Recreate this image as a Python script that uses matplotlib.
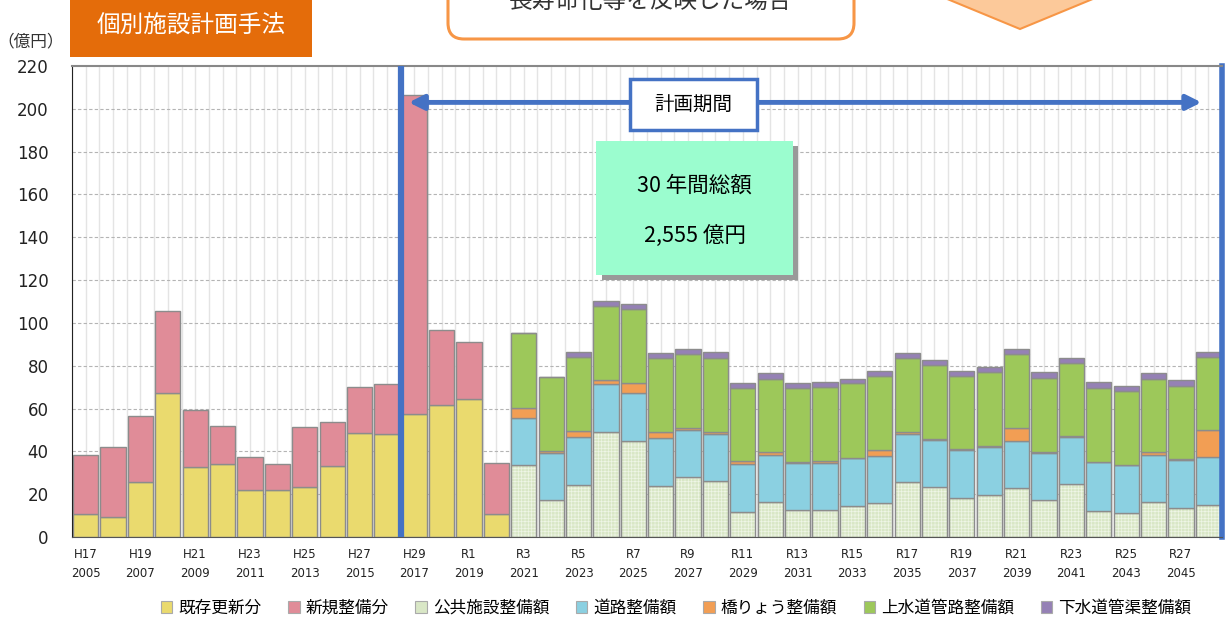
import matplotlib
matplotlib.use("Agg")
import matplotlib.pyplot as plt
from matplotlib.patches import Rectangle, FancyBboxPatch, Polygon, Patch
from matplotlib.transforms import IdentityTransform
import numpy as np

JP = ["Noto Sans CJK JP", "DejaVu Sans"]

# 2005-2020 (H17-R2): actual spending
hist_years = list(range(2005, 2021))
existing = [10.6, 9.5, 25.7, 67.1, 32.8, 33.9, 21.9, 21.9, 23.5, 33.3, 48.4, 48.3,
            57.4, 61.5, 64.6, 10.7]
new_build = [27.5, 32.4, 30.8, 38.6, 26.5, 18.1, 15.6, 12.3, 28.0, 20.3, 21.7, 23.0,
             149.1, 35.2, 26.5, 23.9]

# 2021-2046 (R3-R28): planned by category
plan_years = list(range(2021, 2047))
public = [33.5, 17.1, 24.3, 49.0, 45.0, 23.8, 27.9, 26.2, 11.5, 16.2, 12.5, 12.5, 14.5,
          15.7, 25.8, 23.2, 18.4, 19.8, 22.9, 17.1, 24.6, 12.3, 11.2, 16.3, 13.7, 15.1]
road = [22.1, 22.1, 22.3, 22.3, 22.1, 22.4, 22.2, 22.1, 22.5, 22.0, 22.2, 21.9, 22.2,
        22.3, 22.5, 22.3, 22.4, 22.1, 22.1, 22.3, 22.2, 22.5, 22.2, 22.2, 22.4, 22.1]
bridge = [4.7, 1.0, 2.9, 2.2, 5.0, 2.8, 1.0, 0.9, 1.4, 1.4, 0.3, 1.2, 0.3,
          2.6, 0.9, 0.3, 0.2, 0.6, 5.9, 0.4, 0.2, 0.2, 0.2, 1.1, 0.2, 12.6]
water = [35.0, 34.7, 34.4, 34.4, 34.2, 34.6, 34.4, 34.6, 34.2, 34.3, 34.5, 34.3, 34.8,
         34.5, 34.6, 34.4, 34.4, 34.4, 34.4, 34.5, 34.3, 34.6, 34.4, 34.3, 34.4, 34.1]
sewer = [0.0, 0.0, 2.4, 2.2, 2.4, 2.3, 2.3, 2.5, 2.3, 2.6, 2.3, 2.3, 2.1,
         2.3, 2.3, 2.3, 2.3, 2.5, 2.5, 2.6, 2.5, 2.6, 2.5, 2.8, 2.7, 2.5]

tick_era = ["H17", "H19", "H21", "H23", "H25", "H27", "H29", "R1", "R3", "R5", "R7",
            "R9", "R11", "R13", "R15", "R17", "R19", "R21", "R23", "R25", "R27"]
tick_year = list(range(2005, 2046, 2))

labels = ["既存更新分", "新規整備分", "公共施設整備額", "道路整備額", "橋りょう整備額",
          "上水道管路整備額", "下水道管渠整備額"]
colors = ["#eada6e", "#e08c98", "#d9e7c6", "#8bd0e1", "#f29e54", "#9dc85a", "#9581b5"]
EDGE = "#8c8c8c"
BLUE = "#4472c4"
W = 1226
H = 619

fig = plt.figure(figsize=(W / 100, H / 100), dpi=100)
ax = fig.add_axes([72 / W, 1 - 537 / H, 1150 / W, 471 / H])

all_years = hist_years + plan_years
x_hist = np.array([all_years.index(y) for y in hist_years])
x_plan = np.array([all_years.index(y) for y in plan_years])

# background grid
for v in np.arange(-0.5, len(all_years), 0.5):
    ax.axvline(v, color="#e4e4e4", lw=1.0, zorder=0)
for yv in range(20, 220, 20):
    ax.axhline(yv, color="#b4b4b4", lw=0.8, ls=(0, (3, 2)), zorder=0.5)

bw = 0.92
ax.bar(x_hist, existing, bw, color=colors[0], edgecolor=EDGE, lw=1.0, zorder=2)
ax.bar(x_hist, new_build, bw, bottom=existing, color=colors[1], edgecolor=EDGE, lw=1.0, zorder=2)

plt.rcParams["hatch.linewidth"] = 0.5
ax.bar(x_plan, public, bw, color=colors[2], edgecolor="#eef5e6", hatch="+++++", lw=0, zorder=2)
ax.bar(x_plan, public, bw, color="none", edgecolor=EDGE, lw=1.0, zorder=2)
bottom = np.array(public, dtype=float)
for vals, col in zip([road, bridge, water, sewer], colors[3:]):
    ax.bar(x_plan, vals, bw, bottom=bottom, color=col, edgecolor=EDGE, lw=1.0, zorder=2)
    bottom += np.array(vals)

ax.set_xlim(-0.5, len(all_years) - 0.5)
ax.set_ylim(0, 220)
ax.set_yticks(range(0, 221, 20))
ax.tick_params(axis="y", length=0, pad=17, labelsize=12, labelcolor="#222222")
ticks_x = [all_years.index(y) for y in tick_year]
ax.set_xticks(ticks_x)
ax.set_xticklabels([f"{e}\n{y}" for e, y in zip(tick_era, tick_year)], fontsize=8.5,
                   linespacing=1.6, color="#222222")
ax.tick_params(axis="x", length=0, pad=8)

ax.spines["left"].set_color("#222222")
ax.spines["bottom"].set_color("#555555")
ax.spines["top"].set_color("#888888")
ax.spines["top"].set_linewidth(1.5)
ax.spines["right"].set_color(BLUE)
ax.spines["right"].set_linewidth(4)

# boundary of the planning period
ax.axvline(11.5, color=BLUE, lw=4.5, zorder=3)

# planning period arrow and label
ax.annotate("", xy=(40.75, 203), xytext=(11.8, 203),
            arrowprops=dict(arrowstyle="<|-|>", color=BLUE, lw=3.5, mutation_scale=22,
                            shrinkA=0, shrinkB=0), zorder=4)
ax.add_patch(Rectangle((19.88, 190.1), 4.64, 23.8, facecolor="white", edgecolor=BLUE,
                       lw=2.5, zorder=5))
ax.text(22.2, 202, "計画期間", ha="center", va="center", fontsize=14, family=JP, zorder=6)

# total box with shadow
ax.add_patch(Rectangle((18.64 + 0.2, 122.4 - 2.4), 7.19, 62.6, facecolor="#999999",
                       edgecolor="none", zorder=4))
ax.add_patch(Rectangle((18.64, 122.4), 7.19, 62.6, facecolor="#9bfdcf",
                       edgecolor="none", zorder=5))
ax.text(22.24, 164, "30 年間総額", ha="center", va="center", fontsize=15.5, family=JP, zorder=6)
ax.text(22.24, 140.5, "2,555 億円", ha="center", va="center", fontsize=15.5, family=JP, zorder=6)

# unit label
fig.text(31 / W, 1 - 42 / H, "（億円）", ha="center", va="center", fontsize=12,
         family=JP, color="#333333")

# header decorations (pixel coordinates)
idt = IdentityTransform()
fig.patches.append(Rectangle((70, H - 57), 242, 60, facecolor="#e46c0a", edgecolor="none",
                             transform=idt, figure=fig))
fig.text(191 / W, 1 - 26 / H, "個別施設計画手法", ha="center", va="center", fontsize=17,
         color="white", family=JP)

fig.patches.append(FancyBboxPatch((448, H - 39), 406, 80,
                                  boxstyle="round,pad=0,rounding_size=16",
                                  facecolor="white", edgecolor="#f79646", lw=2.2,
                                  transform=idt, figure=fig))
fig.text(651 / W, 1 - 1 / H, "長寿命化等を反映した場合", ha="center", va="center",
         fontsize=17, color="#333333", family=JP)

fig.patches.append(Polygon([(877, H + 30), (1020, H - 29), (1163, H + 30)], closed=True,
                           facecolor="#fcc99a", edgecolor="#f79646", lw=1.5,
                           transform=idt, figure=fig))

# legend
handles = [Patch(facecolor=col, edgecolor="#aaaaaa", lw=0.8, label=lab)
           for lab, col in zip(labels, colors)]
fig.legend(handles=handles, loc="center", bbox_to_anchor=(676 / W, 1 - 608 / H), ncol=7,
           frameon=False, prop={"family": JP, "size": 12}, handlelength=0.7,
           handleheight=0.7, handletextpad=0.35, columnspacing=1.6, borderpad=0)

fig.savefig("out.png", dpi=100)
